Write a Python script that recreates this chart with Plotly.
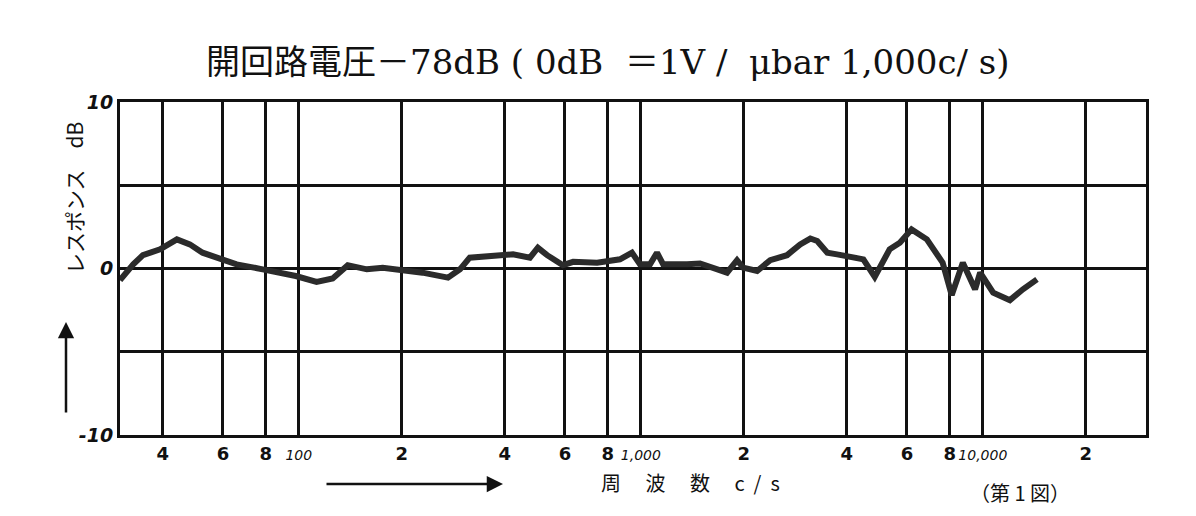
import plotly.graph_objects as go
import math

# ---- data ----
freq = [30, 32.8, 35.0, 39.3, 44.0, 48.0, 52.3, 59.8, 65.8, 78.4, 98, 112.7, 125.6, 139,
        158, 176, 198, 230, 273, 296, 316, 387, 423, 474, 500, 532, 592, 634, 745, 869,
        942, 994, 1064, 1115, 1162, 1365, 1490, 1787, 1911, 1990, 2188, 2390, 2677, 2924,
        3130, 3280, 3510, 3750, 4020, 4475, 4830, 5340, 5720, 6190, 6860, 7630, 8110,
        8740, 9490, 9820, 10720, 12000, 13100, 14400]
resp = [-0.7, 0.25, 0.8, 1.15, 1.75, 1.45, 0.95, 0.5, 0.25, -0.05, -0.45, -0.8, -0.6, 0.2,
        -0.05, 0.05, -0.05, -0.25, -0.55, -0.05, 0.65, 0.85, 0.85, 0.65, 1.25, 0.8, 0.2, 0.4,
        0.35, 0.55, 0.95, 0.25, 0.25, 0.95, 0.25, 0.25, 0.3, -0.25, 0.5, 0.05, -0.15, 0.5,
        0.8, 1.45, 1.8, 1.65, 0.95, 0.85, 0.75, 0.55, -0.5, 1.15, 1.55, 2.35, 1.75, 0.35,
        -1.6, 0.35, -1.25, -0.25, -1.45, -1.9, -1.25, -0.65]

x_tickvals = [40, 60, 80, 100, 200, 400, 600, 800, 1000, 2000, 4000, 6000, 8000, 10000, 20000]
x_ticktext = ["<b>4</b>", "<b>6</b>", "<b>8</b>", "<i><span style='font-size:14px'>100</span></i>",
              "<b>2</b>", "<b>4</b>", "<b>6</b>", "<b>8</b>",
              "<i><span style='font-size:14px'>1,000</span></i>", "<b>2</b>", "<b>4</b>",
              "<b>6</b>", "<b>8</b>", "<i><span style='font-size:14px'>10,000</span></i>", "<b>2</b>"]
y_tickvals = [-10, -5, 0, 5, 10]
y_ticktext = ["<b><i>-10</i></b>", "", "<b><i>0</i></b>", "", "<b><i>10</i></b>"]

title_text = "開回路電圧－78dB (\u00a00dB\u00a0 ＝1V\u00a0/\u00a0 μbar 1,000c/\u00a0s)"
ytitle_text = "レスポンス\u3000dB"
xtitle_text = "周\u3000 波\u3000 数\u3000 c\u00a0 /\u00a0 s"
fig_label = "（第 1 図）"

# ---- layout geometry (page pixels; page body has an 8px margin) ----
OFF = 8
W, H = 1180, 500
PX0, PX1, PY0, PY1 = 120, 1146, 102, 435   # plot area in page pixels
L = PX0 - OFF
R = OFF + W - PX1
T = PY0 - OFF
B = OFF + H - PY1
pw, ph = PX1 - PX0, PY1 - PY0

def px2paper(px, py):
    return (px - PX0) / pw, (PY1 - py) / ph

fig = go.Figure()
fig.add_trace(go.Scatter(x=freq, y=resp, mode="lines",
                         line=dict(color="#2b2b2b", width=6, shape="linear"),
                         showlegend=False, hoverinfo="skip"))

fig.update_layout(
    width=W, height=H,
    margin=dict(l=L, r=R, t=T, b=B),
    paper_bgcolor="white", plot_bgcolor="white",
    font=dict(family="DejaVu Sans, Noto Sans CJK JP", color="#111111"),
    xaxis=dict(type="log", range=[math.log10(30), math.log10(30000)],
               tickvals=x_tickvals, ticktext=x_ticktext, tickangle=0,
               showgrid=True, gridcolor="#111111", gridwidth=2.5,
               showline=True, linecolor="#111111", linewidth=3, mirror=True,
               ticks="", zeroline=False,
               tickfont=dict(size=18, family="DejaVu Sans", color="#111111")),
    yaxis=dict(range=[-10, 10], tickvals=y_tickvals, ticktext=y_ticktext,
               showgrid=True, gridcolor="#111111", gridwidth=2.5,
               showline=True, linecolor="#111111", linewidth=3, mirror=True,
               ticks="", zeroline=False,
               tickfont=dict(size=19, family="DejaVu Sans", color="#111111")),
)

ann = []
tx, ty = px2paper(608, 62)
ann.append(dict(x=tx, y=ty, xref="paper", yref="paper", text=title_text, showarrow=False,
                font=dict(size=34, family="DejaVu Serif, Noto Sans CJK JP", color="#111111"),
                xanchor="center", yanchor="middle"))
yx, yy = px2paper(74, 198)
ann.append(dict(x=yx, y=yy, xref="paper", yref="paper", text=ytitle_text, showarrow=False,
                textangle=-90, font=dict(size=21, family="Noto Sans CJK JP", color="#111111"),
                xanchor="center", yanchor="middle"))
ahx, ahy = px2paper(66, 322)
ann.append(dict(x=ahx, y=ahy, xref="paper", yref="paper", text="", showarrow=True,
                ax=0, ay=92, axref="pixel", ayref="pixel", arrowhead=2, arrowsize=1.3,
                arrowwidth=2.5, arrowcolor="#111111"))
xx, xy = px2paper(690, 482)
ann.append(dict(x=xx, y=xy, xref="paper", yref="paper", text=xtitle_text, showarrow=False,
                font=dict(size=20, family="Noto Sans CJK JP", color="#111111"),
                xanchor="center", yanchor="middle"))
bhx, bhy = px2paper(503, 484)
ann.append(dict(x=bhx, y=bhy, xref="paper", yref="paper", text="", showarrow=True,
                ax=-178, ay=0, axref="pixel", ayref="pixel", arrowhead=2, arrowsize=1.3,
                arrowwidth=2.5, arrowcolor="#111111"))
fx, fy = px2paper(1020, 492)
ann.append(dict(x=fx, y=fy, xref="paper", yref="paper", text=fig_label, showarrow=False,
                font=dict(size=20, family="Noto Sans CJK JP", color="#111111"),
                xanchor="center", yanchor="middle"))
fig.update_layout(annotations=ann)

fig.write_html("out.html")
